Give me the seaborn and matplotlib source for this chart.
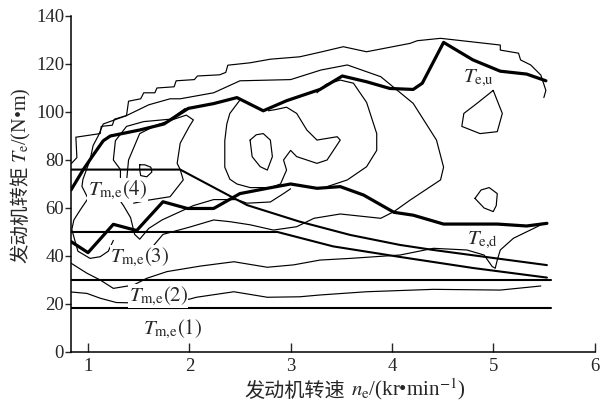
import matplotlib
matplotlib.use('Agg')
import matplotlib.pyplot as plt
import seaborn as sns
import pandas as pd

# --- Data (x = engine speed kr/min, y = torque N*m) ---
x_min = 0.832

# thick boundary lines
te_u = [(0.832, 67.5), (0.95, 75.8), (1.05, 82), (1.15, 88), (1.22, 90), (1.51, 92.5),
        (1.75, 95), (1.99, 101.5), (2.24, 103.5), (2.47, 106), (2.73, 100.5), (2.96, 104.7),
        (3.29, 109.4), (3.51, 115), (3.75, 112.6), (3.98, 109.8), (4.21, 109.4), (4.3, 112),
        (4.51, 129), (4.8, 121.7), (5.07, 117), (5.33, 115.8), (5.52, 113)]
te_d = [(0.832, 46), (1.0, 41.4), (1.25, 53.2), (1.48, 50.6), (1.74, 62.6), (1.98, 59.8),
        (2.24, 59.8), (2.5, 66), (2.77, 68.2), (3.0, 70), (3.26, 68.2), (3.49, 68.9),
        (3.72, 65.4), (4.02, 58.2), (4.21, 57), (4.51, 53.3), (5.04, 53.3), (5.33, 52.5),
        (5.53, 53.6)]

# engine torque operating lines
tm4 = [(0.832, 76), (1.91, 76), (2.57, 61.2), (3.09, 54.3), (3.59, 48.75), (4.08, 44.6),
       (4.41, 42.5), (4.8, 40.3), (5.53, 36.2)]
tm3 = [(0.832, 50), (2.87, 50), (3.42, 44), (4.08, 39.6), (4.8, 35), (5.53, 31)]
tm2 = [(0.832, 30), (5.57, 30)]
tm1 = [(0.832, 18.5), (5.57, 18.5)]

# thin contour lines
c_outer = [(0.835, 78.5), (0.89, 81), (0.88, 89.5), (1.12, 91), (1.13, 94), (1.24, 94.5),
           (1.26, 97), (1.38, 98.5), (1.40, 104.5), (1.52, 105.5), (1.55, 108), (1.66, 108),
           (1.68, 110), (1.85, 110.5), (1.87, 113), (2.05, 113.5), (2.08, 115), (2.3, 115.5),
           (2.36, 116.5), (2.38, 119.5), (2.6, 120.5), (2.8, 122), (3.09, 123), (3.3, 125),
           (3.52, 127.2), (3.75, 125.1), (4.18, 128.6), (4.25, 129.7), (4.48, 130.7),
           (5.07, 127.9), (5.07, 125.8), (5.25, 124.5), (5.27, 121.7), (5.37, 119.6),
           (5.47, 115.4), (5.52, 109), (5.5, 106)]
c_big = [(1.25, 46.5), (1.2, 42), (1.12, 39.7), (1.02, 39), (0.9, 42), (0.84, 51),
         (0.86, 55), (0.92, 59), (1.0, 64), (0.94, 69), (0.95, 72), (1.02, 80), (1.05, 86),
         (1.1, 90), (1.15, 95), (1.38, 98.5), (1.6, 103), (1.81, 105.5), (1.91, 105.5),
         (2.24, 108), (2.5, 113), (3.0, 113.5), (3.3, 117.5), (3.56, 119.6), (3.89, 114.7),
         (4.21, 103.6), (4.44, 88.3), (4.51, 77), (4.48, 71.7), (4.38, 68.9), (4.18, 63.3),
         (4.02, 58.5), (3.89, 55.7), (3.49, 57.5), (3.23, 55.7), (3.06, 52.2), (2.83, 50.8),
         (2.6, 53), (2.4, 54.3), (2.24, 55), (2.0, 52), (1.74, 49), (1.68, 46), (1.62, 43)]
c_left = [(1.32, 69), (1.32, 76), (1.25, 80), (1.27, 88), (1.38, 94), (1.55, 96),
          (1.81, 97), (1.96, 101.5)]
c_mid = [(1.45, 62), (1.6, 63.3), (1.81, 64.7), (1.94, 71.7), (1.91, 76), (1.88, 78.6),
         (1.91, 87), (2.0, 94), (2.04, 96.7), (1.97, 98.7), (1.68, 94.6), (1.51, 91),
         (1.40, 80), (1.38, 71)]
c_drop = [(1.51, 78), (1.56, 78), (1.62, 77), (1.63, 75), (1.58, 73), (1.52, 73.5),
          (1.51, 76), (1.51, 78)]
c_horse = [(2.5, 105), (2.4, 99.4), (2.37, 95), (2.35, 88), (2.35, 77), (2.4, 72),
           (2.47, 70), (2.6, 68.5), (2.8, 68.5), (2.9, 70), (2.96, 75.8), (2.93, 80),
           (3.0, 84), (3.06, 81.4), (3.26, 78.6), (3.36, 80), (3.49, 88.3), (3.46, 89.7),
           (3.26, 88.3), (3.16, 92.5), (3.06, 99.4), (2.96, 102), (2.85, 101), (2.78, 100.5)]
c_core = [(2.60, 88.3), (2.66, 90.5), (2.73, 91), (2.80, 88.3), (2.82, 81.4), (2.77, 75.8),
          (2.70, 77.2), (2.62, 81.4), (2.60, 88.3)]
c_ring = [(3.26, 108), (3.35, 111.5), (3.49, 113.3), (3.62, 112), (3.75, 104), (3.85, 91),
          (3.85, 84), (3.75, 77.2), (3.56, 71.7), (3.36, 68.9)]
c_isle1 = [(5.0, 109), (5.09, 99.4), (5.04, 91.8), (4.87, 91), (4.69, 94), (4.71, 99.4),
           (4.84, 103.6), (5.0, 109)]
c_isle2 = [(4.82, 64), (4.88, 67.5), (4.96, 68.5), (5.04, 66), (5.03, 61), (5.0, 58.5),
           (4.91, 60), (4.82, 64)]
c_vee = [(1.25, 67), (1.35, 61), (1.42, 56), (1.46, 49), (1.51, 47), (1.56, 49.5),
         (1.6, 51.5), (1.73, 55), (2.04, 61), (2.24, 63.5), (2.47, 63.5), (2.57, 62),
         (2.8, 62.5), (2.93, 66), (3.0, 68)]
c_low1 = [(0.832, 37), (0.99, 32.8), (1.12, 30), (1.25, 26.5), (1.45, 27.9), (1.58, 30.7),
          (1.78, 33.5), (2.11, 35.8), (2.44, 37.6), (2.77, 35.3), (3.03, 36.3), (3.29, 38.3),
          (3.59, 39), (4.08, 40.4), (4.41, 43.2), (4.74, 42.5), (4.91, 40.4), (4.99, 35.6),
          (5.02, 34.9), (5.04, 38.3), (5.07, 42.5), (5.2, 47.4), (5.4, 51.5), (5.5, 53.6)]
c_low2 = [(0.832, 25), (0.99, 24.4), (1.12, 22.4), (1.28, 20.6), (1.4, 20.5), (2.0, 22),
          (2.07, 22.8), (2.44, 25.1), (2.77, 22.8), (3.09, 23), (3.29, 23.75), (3.75, 25.1),
          (4.41, 26.1), (5.07, 25.8), (5.47, 27.5)]

thin_lines = [c_outer, c_big, c_left, c_mid, c_drop, c_horse, c_core, c_ring,
              c_isle1, c_isle2, c_vee, c_low1, c_low2]

x_ticks = [1, 2, 3, 4, 5, 6]
y_ticks = [0, 20, 40, 60, 80, 100, 120, 140]

# --- Style ---
sns.set_style('ticks')
plt.rcParams['font.family'] = ['Liberation Serif', 'Noto Sans CJK SC']
plt.rcParams['mathtext.fontset'] = 'stix'
cjk = 'Noto Sans CJK SC'


def draw(ax, pts, lw):
    df = pd.DataFrame(pts, columns=['n', 'T'])
    sns.lineplot(data=df, x='n', y='T', sort=False, estimator=None, color='black',
                 lw=lw, ax=ax, solid_joinstyle='round')


fig = plt.figure(figsize=(6.09, 4.03), dpi=100)
ax = fig.add_axes([0.1166, 0.1266, 0.8596, 0.8337])

for pts in thin_lines:
    draw(ax, pts, 0.85)
for pts in [tm4, tm3, tm2, tm1]:
    draw(ax, pts, 1.5)
for pts in [te_u, te_d]:
    draw(ax, pts, 2.3)

lab = dict(fontsize=15, ha='left', va='center', zorder=5)
box = dict(facecolor='white', edgecolor='none', pad=0.5)
ax.text(4.7, 114, r'$T_{\rm e{,}u}$', **lab)
ax.text(4.74, 46.5, r'$T_{\rm e{,}d}$', **lab)
ax.text(1.0, 67.5, r'$T_{\rm m{,}e}(4)$', bbox=box, **lab)
ax.text(1.22, 39.6, r'$T_{\rm m{,}e}(3)$', bbox=box, **lab)
ax.text(1.40, 23.3, r'$T_{\rm m{,}e}(2)$', bbox=box, **lab)
ax.text(1.54, 9.6, r'$T_{\rm m{,}e}(1)$', **lab)

ax.set_xlim(x_min, 6.0)
ax.set_ylim(0, 140)
ax.set_xticks(x_ticks)
ax.set_yticks(y_ticks)
ax.tick_params(axis='x', direction='in', length=6.5, width=1, labelsize=13.5, pad=4)
ax.tick_params(axis='y', direction='out', length=4, width=1, labelsize=13.5, pad=1)
ax.set_xlabel('')
ax.set_ylabel('')
for s in ['top', 'right']:
    ax.spines[s].set_visible(False)
for s in ['left', 'bottom']:
    ax.spines[s].set_linewidth(1.1)
    ax.spines[s].set_color('black')

# axis titles: Chinese part and math part as two chained texts
xa = ax.text(0.332, -0.134, '发动机转速', transform=ax.transAxes, family=cjk,
             fontsize=14.5, ha='left', va='baseline')
ax.annotate(r'$n_{\rm e}$/(kr•min$^{-1}$)', xy=(1, 0), xycoords=xa,
            xytext=(4, 0), textcoords='offset points', fontsize=15,
            ha='left', va='bottom')
ya = ax.text(-0.0955, 0.409, '发动机转矩', transform=ax.transAxes, family=cjk,
             fontsize=14, rotation=90, ha='center', va='center')
ax.annotate(r'$T_{\rm e}$/(N•m)', xy=(0.5, 1), xycoords=ya,
            xytext=(0, 2), textcoords='offset points', fontsize=14.5,
            rotation=90, ha='center', va='bottom')

fig.savefig('out.png', dpi=100)
plt.close(fig)
